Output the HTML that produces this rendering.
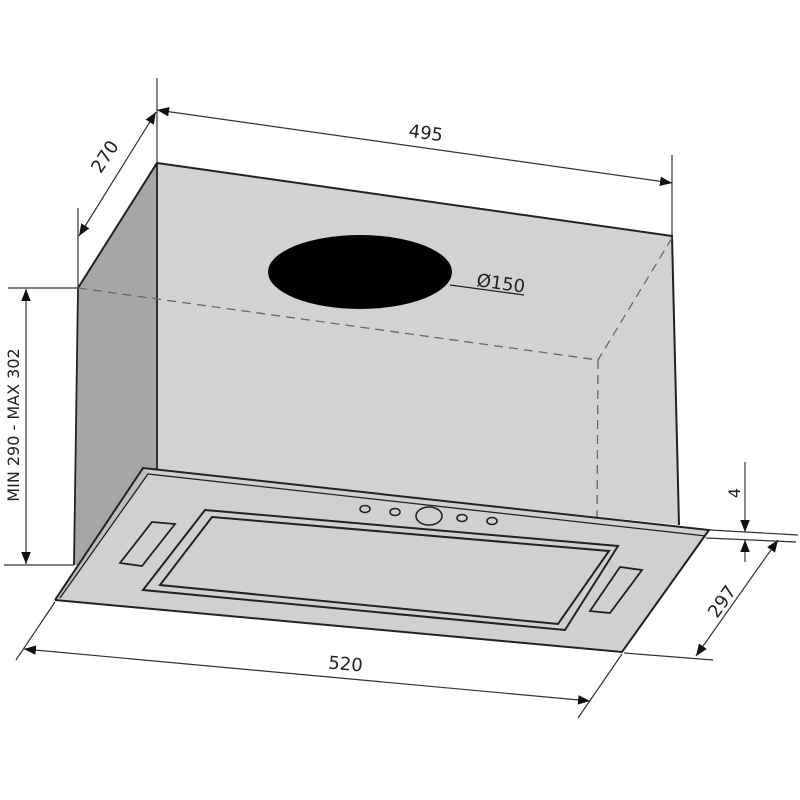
<!DOCTYPE html>
<html><head><meta charset="utf-8"><style>
html,body{margin:0;padding:0;background:#fff;width:800px;height:800px;overflow:hidden}
svg{display:block}
text{font-family:"DejaVu Sans","Liberation Sans",sans-serif;fill:#222}
</style></head><body>
<svg width="800" height="800" viewBox="0 0 800 800" xmlns="http://www.w3.org/2000/svg">
<defs>
<marker id="a" viewBox="0 0 10 10" refX="10" refY="5" markerWidth="12" markerHeight="12" markerUnits="userSpaceOnUse" orient="auto-start-reverse">
<path d="M0,1 L10,5 L0,9 z" fill="#111"/></marker>
</defs>
<polygon points="157,163 672,236 679,525 157,470" fill="#d2d2d2"/>
<polygon points="157,163 78,288 74,565 157,565" fill="#a6a6a6"/>
<polyline points="78,288 157,163 672,236 679,525" fill="none" stroke="#222" stroke-width="2"/>
<line x1="157" y1="163" x2="157" y2="470" stroke="#222" stroke-width="1.8"/>
<line x1="78" y1="288" x2="74" y2="565" stroke="#222" stroke-width="1.8"/>
<g stroke="#666" stroke-width="1.3" stroke-dasharray="9,6" fill="none">
<line x1="78" y1="288" x2="598" y2="360"/>
<line x1="672" y1="238" x2="598" y2="360"/>
<line x1="598" y1="360" x2="597" y2="518"/>
</g>
<ellipse cx="360" cy="272" rx="92" ry="37" fill="#000"/>
<line x1="450" y1="285" x2="524" y2="295" stroke="#222" stroke-width="1.3"/>
<text x="476" y="286" font-size="18" transform="rotate(8 476 286)">Ø150</text>
<polygon points="145,468 709,530 622,652 55,600" fill="#d0d0d0"/>
<polygon points="143,470 150,472 60,598 55,600" fill="#bdbdbd"/>
<polyline points="55,600 143,468 709,530 622,652 55,600" fill="none" stroke="#222" stroke-width="2"/>
<polyline points="60,598 148,474 706,536" fill="none" stroke="#222" stroke-width="1.3"/>
<polygon points="205,510 618,546 565,630 143,590" fill="none" stroke="#222" stroke-width="2"/>
<polygon points="212,517 609,551 558,624 160,585" fill="none" stroke="#222" stroke-width="2"/>
<polygon points="152,522 175,524 142,566 120,563" fill="none" stroke="#222" stroke-width="1.8"/>
<polygon points="620,567 642,570 610,613 590,611" fill="none" stroke="#222" stroke-width="1.8"/>
<g fill="none" stroke="#222" stroke-width="1.6">
<ellipse cx="365" cy="509" rx="5" ry="3.5"/>
<ellipse cx="395" cy="512" rx="5" ry="3.5"/>
<ellipse cx="429" cy="516" rx="13" ry="9"/>
<ellipse cx="462" cy="518" rx="5" ry="3.5"/>
<ellipse cx="492" cy="521" rx="5" ry="3.5"/>
</g>
<g stroke="#333" stroke-width="1.2" fill="none">
<line x1="157" y1="78" x2="157" y2="163"/>
<line x1="672" y1="155" x2="672" y2="236"/>
<line x1="157" y1="110" x2="672" y2="183" marker-start="url(#a)" marker-end="url(#a)"/>
<line x1="78" y1="208" x2="78" y2="288"/>
<line x1="156" y1="112" x2="79" y2="236" marker-start="url(#a)" marker-end="url(#a)"/>
<line x1="8" y1="288" x2="78" y2="288"/>
<line x1="4" y1="565" x2="74" y2="565"/>
<line x1="26" y1="289" x2="26" y2="564" marker-start="url(#a)" marker-end="url(#a)"/>
<line x1="55" y1="602" x2="16" y2="660"/>
<line x1="622" y1="654" x2="578" y2="718"/>
<line x1="24" y1="649" x2="590" y2="701" marker-start="url(#a)" marker-end="url(#a)"/>
<line x1="710" y1="530" x2="798" y2="535"/>
<line x1="706" y1="538" x2="796" y2="542"/>
<line x1="624" y1="653" x2="713" y2="660"/>
<line x1="778" y1="540" x2="696" y2="656" marker-start="url(#a)" marker-end="url(#a)"/>
<line x1="745" y1="462" x2="745" y2="532" marker-end="url(#a)"/>
<line x1="745" y1="562" x2="745" y2="540" marker-end="url(#a)"/>
</g>
<text x="425" y="139" font-size="18" text-anchor="middle" transform="rotate(8 425 139)">495</text>
<text x="110" y="160" font-size="18" text-anchor="middle" transform="rotate(-57 110 160)">270</text>
<text x="19" y="425" font-size="16" text-anchor="middle" transform="rotate(-90 19 425)">MIN 290 - MAX 302</text>
<text x="345" y="670" font-size="18" text-anchor="middle" transform="rotate(5 345 670)">520</text>
<text x="727" y="605" font-size="18" text-anchor="middle" transform="rotate(-55 727 605)">297</text>
<text x="740" y="493" font-size="16" text-anchor="middle" transform="rotate(-90 740 493)">4</text>
</svg>
</body></html>
